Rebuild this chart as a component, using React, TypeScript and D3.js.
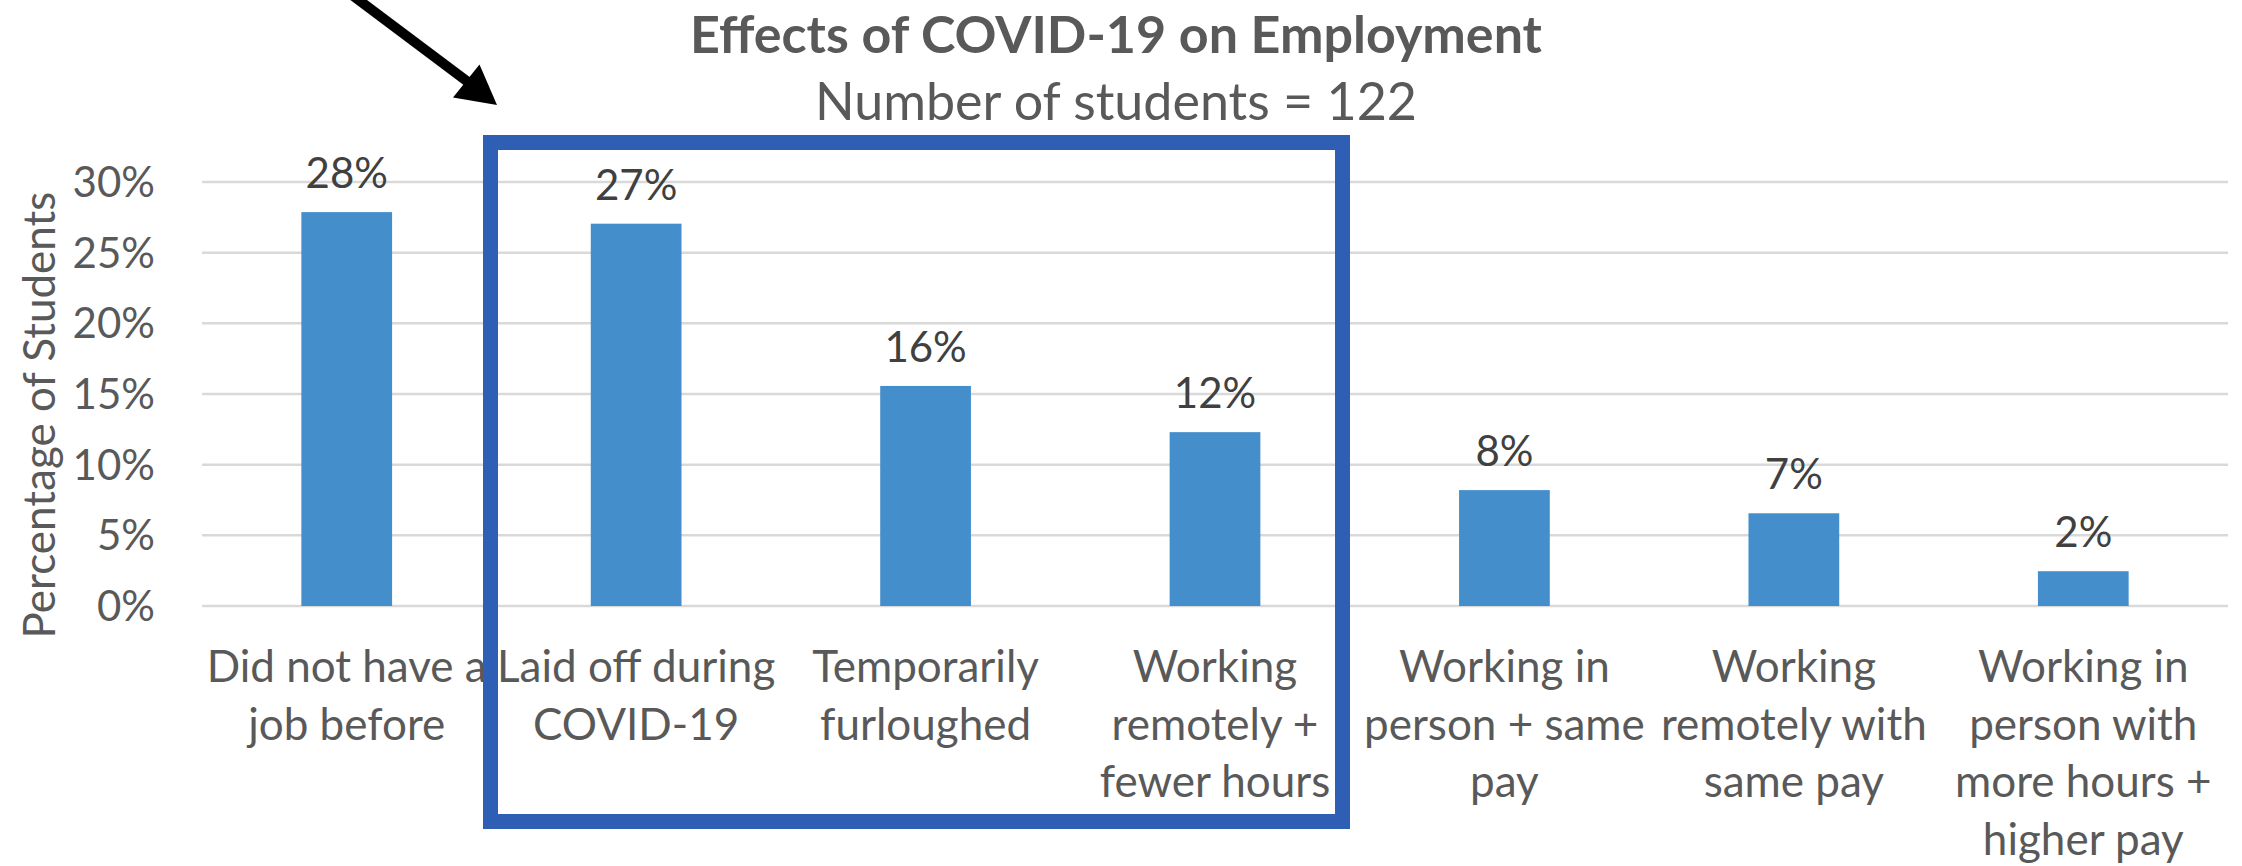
import React from "react";
import * as d3 from "d3";

const categories: string[][] = [
  ["Did not have a", "job before"],
  ["Laid off during", "COVID-19"],
  ["Temporarily", "furloughed"],
  ["Working", "remotely +", "fewer hours"],
  ["Working in", "person + same", "pay"],
  ["Working", "remotely with", "same pay"],
  ["Working in", "person with", "more hours +", "higher pay"],
];
const values: number[] = [27.87, 27.05, 15.57, 12.3, 8.2, 6.56, 2.46];
const valueLabels: string[] = ["28%", "27%", "16%", "12%", "8%", "7%", "2%"];
const yTicks: number[] = [0, 5, 10, 15, 20, 25, 30];
const title = "Effects of COVID-19 on Employment";
const subtitle = "Number of students = 122";
const yTitle = "Percentage of Students";

const W = 2242;
const H = 866;
const FONT = "Lato, 'Open Sans', sans-serif";

export default function App() {
  const x = d3
    .scaleBand<number>()
    .domain(categories.map((_, i) => i))
    .range([202, 2228])
    .paddingInner(0.6865)
    .paddingOuter(0.6865 / 2);
  const y = d3.scaleLinear().domain([0, 30]).range([606, 182]);
  const bw = x.bandwidth();

  return (
    <svg
      width={W}
      height={H}
      style={{ position: "absolute", left: 0, top: 0, background: "#fff" }}
      fontFamily={FONT}
    >
      <rect x={0} y={0} width={W} height={H} fill="#fff" />
      {/* title */}
      <text x={1116} y={53} textAnchor="middle" fontSize={52} fontWeight={700} fill="#595959">
        {title}
      </text>
      <text x={1116} y={120} textAnchor="middle" fontSize={52} fill="#595959">
        {subtitle}
      </text>

      {/* gridlines */}
      {yTicks.map((t) => (
        <line key={t} x1={202} x2={2228} y1={y(t)} y2={y(t)} stroke="#d9d9d9" strokeWidth={2.5} />
      ))}
      {/* y tick labels */}
      {yTicks.map((t) => (
        <text key={"l" + t} x={155} y={y(t)} dy="0.36em" textAnchor="end" fontSize={42} fill="#595959">
          {t + "%"}
        </text>
      ))}
      {/* y axis title */}
      <text
        transform={`translate(55,415) rotate(-90)`}
        textAnchor="middle"
        fontSize={44}
        fill="#595959"
      >
        {yTitle}
      </text>

      {/* bars */}
      {values.map((v, i) => (
        <rect key={"b" + i} x={x(i)!} y={y(v)} width={bw} height={y(0) - y(v)} fill="#448ecb" />
      ))}
      {/* value labels */}
      {values.map((v, i) => (
        <text
          key={"v" + i}
          x={x(i)! + bw / 2}
          y={y(v) - 24}
          textAnchor="middle"
          fontSize={42}
          fill="#404040"
        >
          {valueLabels[i]}
        </text>
      ))}
      {/* category labels */}
      {categories.map((lines, i) => (
        <text key={"c" + i} textAnchor="middle" fontSize={44} fill="#595959">
          {lines.map((ln, j) => (
            <tspan key={j} x={x(i)! + bw / 2} y={682 + j * 57.5}>
              {ln}
            </tspan>
          ))}
        </text>
      ))}

      {/* highlight box */}
      <rect x={490.5} y={142.5} width={852} height={679} fill="none" stroke="#2f5fb4" strokeWidth={15} />

      {/* arrow */}
      <line x1={348} y1={-8} x2={468} y2={82} stroke="#000" strokeWidth={10} />
      <polygon points="497,105 453,97.5 479.5,64.5" fill="#000" />
    </svg>
  );
}
